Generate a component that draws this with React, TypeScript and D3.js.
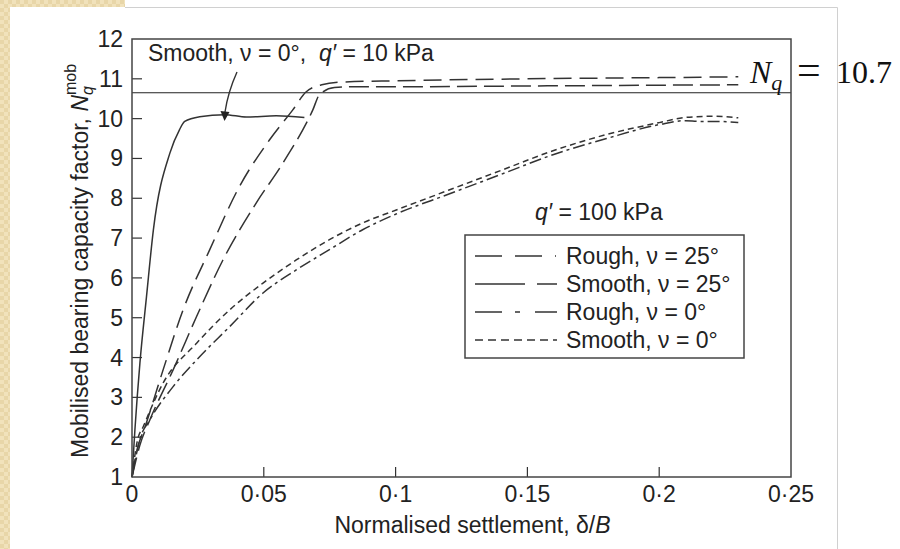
import React from "react";
import * as d3 from "d3";

// ---- data ----
const xTicks = [0, 0.05, 0.1, 0.15, 0.2, 0.25];
const xTickLabels = ["0", "0·05", "0·1", "0·15", "0·2", "0·25"];
const yTicks = [1, 2, 3, 4, 5, 6, 7, 8, 9, 10, 11, 12];

const smoothQ10X = [0, 0.0011, 0.003, 0.0055, 0.0081, 0.0144, 0.018, 0.02, 0.0257, 0.0352, 0.0434, 0.0547, 0.0654];
const smoothQ10Y = [1, 2.18, 3.86, 5.53, 7.2, 9.14, 9.72, 9.93, 10.05, 10.1, 10.04, 10.07, 10.03];

const rough25X = [0, 0.002, 0.005, 0.0118, 0.0194, 0.0295, 0.0408, 0.0522, 0.061, 0.066, 0.072, 0.08, 0.1, 0.15, 0.2, 0.23];
const rough25Y = [1, 1.7, 2.27, 3.69, 5.2, 6.71, 8.3, 9.47, 10.22, 10.67, 10.85, 10.92, 10.95, 11.0, 11.03, 11.05];

const smooth25X = [0, 0.003, 0.0068, 0.0156, 0.0245, 0.0345, 0.0471, 0.0572, 0.0686, 0.0711, 0.0768, 0.085, 0.1, 0.15, 0.2, 0.23];
const smooth25Y = [1, 1.8, 2.44, 3.69, 5.03, 6.45, 7.88, 8.88, 10.22, 10.6, 10.78, 10.8, 10.8, 10.82, 10.84, 10.85];

const rough0X = [0, 0.003, 0.0068, 0.0156, 0.0245, 0.0371, 0.0497, 0.0623, 0.0749, 0.0875, 0.1, 0.12, 0.14, 0.16, 0.18, 0.2, 0.21, 0.215, 0.222, 0.23];
const rough0Y = [1, 1.95, 2.44, 3.27, 3.94, 4.78, 5.62, 6.2, 6.71, 7.21, 7.6, 8.1, 8.6, 9.1, 9.5, 9.85, 9.95, 9.93, 9.93, 9.9];

const smooth0X = [0, 0.002, 0.0043, 0.0118, 0.0245, 0.0371, 0.0497, 0.0623, 0.0749, 0.0875, 0.1, 0.12, 0.14, 0.16, 0.18, 0.2, 0.21, 0.22, 0.23];
const smooth0Y = [1, 1.9, 2.27, 3.36, 4.36, 5.2, 5.87, 6.45, 6.96, 7.38, 7.7, 8.2, 8.7, 9.2, 9.6, 9.9, 10.03, 10.06, 10.02];

const nqValue = 10.65;
const legendLabels = ["Rough, ν = 25°", "Smooth, ν = 25°", "Rough, ν = 0°", "Smooth, ν = 0°"];

// ---- layout ----
const W = 900;
const H = 549;
const x0 = 132, x1 = 791, yTop = 39, yBot = 477;
const INK = "#333";
const FONT = "'Liberation Sans', Arial, sans-serif";
const FS = 23;

const x = d3.scaleLinear().domain([0, 0.25]).range([x0, x1]);
const y = d3.scaleLinear().domain([1, 12]).range([yBot, yTop]);

const line = d3
  .line<[number, number]>()
  .x((d) => x(d[0]))
  .y((d) => y(d[1]))
  .curve(d3.curveMonotoneX);

const zip = (a: number[], b: number[]) => a.map((v, i) => [v, b[i]] as [number, number]);

const series = [
  { xs: rough25X, ys: rough25Y, dash: "18,8", legendDash: "27,13,27,13,1,40" },
  { xs: smooth25X, ys: smooth25Y, dash: "20,7", legendDash: "50,12,20,60" },
  { xs: rough0X, ys: rough0Y, dash: "12,4,3,4", legendDash: "27,13,5,15,22,40" },
  { xs: smooth0X, ys: smooth0Y, dash: "6,4", legendDash: "8,5" },
];

export default function App() {
  const legendX = 465, legendY = 235, legendW = 279, legendH = 123;
  const rowYs = [256, 284, 312, 340];
  return (
    <svg
      width={W}
      height={H}
      style={{ position: "absolute", left: 0, top: 0, background: "#fff" }}
      fontFamily={FONT}
    >
      <defs>
        <pattern id="beige" width="8" height="8" patternUnits="userSpaceOnUse">
          <rect width="8" height="8" fill="#f1e2bb" />
          <rect width="4" height="4" fill="#e8d6a8" />
          <rect x="4" y="4" width="4" height="4" fill="#e8d6a8" />
        </pattern>
      </defs>
      {/* page background */}
      <rect x={0} y={0} width={10} height={H} fill="url(#beige)" />
      <rect x={0} y={0} width={125} height={7} fill="url(#beige)" />
      <path d={`M125,7.5 H837.5 V${H}`} fill="none" stroke="#d0d0d0" strokeWidth={1} />

      {/* ticks */}
      {xTicks.slice(1, -1).map((t) => (
        <line key={"xt" + t} x1={x(t)} x2={x(t)} y1={yBot} y2={yBot - 10} stroke={INK} strokeWidth={1.2} />
      ))}
      {yTicks.slice(1, -1).map((t) => (
        <line key={"yt" + t} x1={x0} x2={x0 + 10} y1={y(t)} y2={y(t)} stroke={INK} strokeWidth={1.2} />
      ))}

      {/* Nq line */}
      <line x1={x0} x2={x1} y1={y(nqValue)} y2={y(nqValue)} stroke="#222" strokeWidth={1} />

      {/* curves */}
      <path d={line(zip(smoothQ10X, smoothQ10Y)) || ""} fill="none" stroke={INK} strokeWidth={1.5} />
      {series.map((s, i) => (
        <path
          key={i}
          d={line(zip(s.xs, s.ys)) || ""}
          fill="none"
          stroke={INK}
          strokeWidth={1.5}
          strokeDasharray={s.dash}
        />
      ))}

      {/* frame */}
      <rect x={x0} y={yTop} width={x1 - x0} height={yBot - yTop} fill="none" stroke="#444" strokeWidth={1.5} />

      {/* tick labels */}
      {xTicks.map((t, i) => (
        <text key={"xl" + t} x={x(t)} y={yBot + 25} textAnchor="middle" fontSize={FS} fill="#222">
          {xTickLabels[i]}
        </text>
      ))}
      {yTicks.map((t) => (
        <text key={"yl" + t} x={123} y={y(t) + 8} textAnchor="end" fontSize={FS} fill="#222">
          {t}
        </text>
      ))}

      {/* axis titles */}
      <text x={(x0 + x1) / 2 + 11} y={533} textAnchor="middle" fontSize={FS} fill="#222">
        Normalised settlement, δ/<tspan fontStyle="italic">B</tspan>
      </text>
      <text transform={`translate(88,${(yTop + yBot) / 2 + 3}) rotate(-90)`} textAnchor="middle" fontSize={FS} fill="#222">
        Mobilised bearing capacity factor, <tspan fontStyle="italic">N</tspan>
        <tspan fontStyle="italic" fontSize={16} dy={5}>q</tspan>
        <tspan fontSize={16} dy={-17} dx={-9}>mob</tspan>
      </text>

      {/* annotation */}
      <text x={148} y={61} fontSize={FS} fill="#222">
        Smooth, ν = 0°,{"\u00a0\u00a0"}<tspan fontStyle="italic">q′</tspan> = 10 kPa
      </text>
      <path d="M237,72 Q228,92 225,112" fill="none" stroke={INK} strokeWidth={1.4} />
      <path d="M220.5,111 L229.5,112 L224.5,121 Z" fill="#222" />

      <text x={535} y={220} fontSize={FS} fill="#222">
        <tspan fontStyle="italic">q′</tspan> = 100 kPa
      </text>

      {/* legend */}
      <rect x={legendX} y={legendY} width={legendW} height={legendH} fill="#fff" stroke="#444" strokeWidth={1.5} />
      {series.map((s, i) => (
        <g key={"lg" + i}>
          <line x1={475} x2={557} y1={rowYs[i]} y2={rowYs[i]} stroke={INK} strokeWidth={1.5} strokeDasharray={s.legendDash} />
          <text x={566} y={rowYs[i] + 8} fontSize={FS} fill="#222">
            {legendLabels[i]}
          </text>
        </g>
      ))}

      {/* Nq label */}
      <text y={83} fontFamily="'Liberation Serif', 'DejaVu Serif', serif" fontSize={32} fill="#111">
        <tspan x={750} fontStyle="italic">N</tspan>
        <tspan fontStyle="italic" fontSize={22} dy={7}>q</tspan>
        <tspan x={797} dy={-6} fontSize={42}>=</tspan>
        <tspan x={836} dy={-1}>10.7</tspan>
      </text>
    </svg>
  );
}
